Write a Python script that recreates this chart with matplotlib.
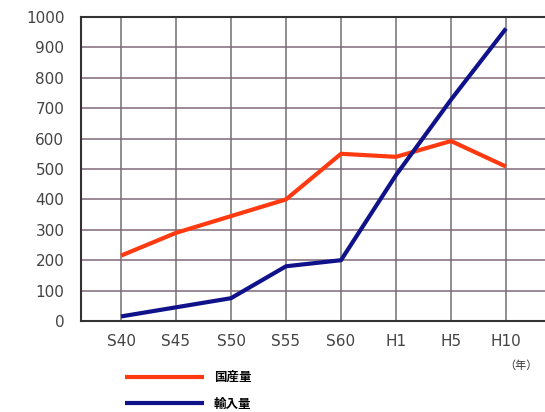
import numpy as np
import matplotlib.pyplot as plt

plt.rcParams['font.family'] = ['DejaVu Sans', 'Noto Sans CJK JP']

years = ['S40', 'S45', 'S50', 'S55', 'S60', 'H1', 'H5', 'H10']
domestic = [215, 290, 345, 400, 550, 540, 592, 508]
imported = [15, 45, 75, 180, 200, 480, 728, 962]
y_ticks = [0, 100, 200, 300, 400, 500, 600, 700, 800, 900, 1000]

fig = plt.figure(figsize=(5.45, 4.12), dpi=100)
W, H = 545, 412
ax = fig.add_axes([81 / W, 1 - 321 / H, (548 - 81) / W, (321 - 17) / H])

x = np.arange(len(years))
ax.set_xlim(-40 / 55, (548 - 121) / 55)
ax.set_ylim(0, 1000)

for xi in x:
    ax.axvline(xi, color='#707070', lw=1.1, zorder=1)
for yv in y_ticks[1:-1]:
    ax.axhline(yv, color='#806878', lw=1.1, zorder=1)

line1, = ax.plot(x, domestic, color='#ff3a10', lw=3, zorder=3, solid_capstyle='butt')
line2, = ax.plot(x, imported, color='#10128a', lw=3, zorder=3, solid_capstyle='butt')

for s in ['left', 'bottom', 'top']:
    ax.spines[s].set_color('#333333')
    ax.spines[s].set_linewidth(1.5)
ax.spines['right'].set_visible(False)

ax.set_xticks(x)
ax.set_xticklabels(years)
ax.set_yticks(y_ticks)
ax.tick_params(length=0, labelsize=11, colors='#444444', pad=12)
ax.tick_params(axis='x', pad=9)

fig.text(521 / W, 1 - 366 / H, '（年）', ha='center', va='center', fontsize=8,
         color='#333333', family=['Noto Sans CJK JP'])

fig.legend([line1, line2], ['国産量', '輸入量'], loc='upper left',
           bbox_to_anchor=(120 / W, 1 - 366 / H), frameon=False,
           prop={'family': 'Noto Sans CJK JP', 'size': 9, 'weight': 'bold'},
           handlelength=6.3, handletextpad=0.8, labelspacing=1.1, borderaxespad=0)

fig.savefig('out.png', dpi=100)
